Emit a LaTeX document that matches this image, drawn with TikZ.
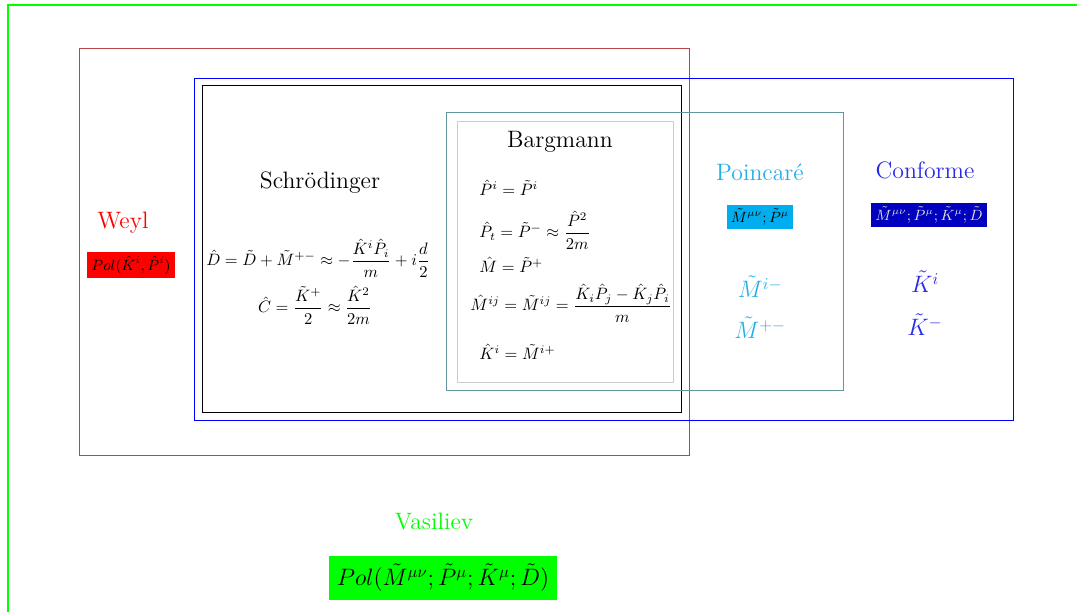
\documentclass[tikz,border=0pt]{standalone}
\usepackage{amsmath}
\definecolor{weylbox}{RGB}{185,70,70}
\definecolor{poinc}{RGB}{35,175,230}
\definecolor{poincfill}{RGB}{0,174,239}
\definecolor{conf}{RGB}{40,40,235}
\definecolor{conffill}{RGB}{0,0,190}
\definecolor{bargbox}{RGB}{100,150,160}
\begin{document}
\begin{tikzpicture}[x=0.0213cm, y=-0.0213cm, line width=0.6pt,
    every node/.style={inner sep=3pt},
    title/.style={font=\Large},
    polbox/.style={font=\small, inner sep=2.5pt}]
    \useasboundingbox (0,0) rectangle (1077,612);
    \draw[green, line width=1pt] (8,5) rectangle (1090,625);
    \draw[weylbox] (79,49) rectangle (689,455);
    \draw[blue] (194,79) rectangle (1013,420);
    \draw[black] (202,86) rectangle (681,412);
    \draw[bargbox] (446,113) rectangle (843,390);
    \draw[gray!40] (457,122) rectangle (673,382);
    \node[title, red] (weyl) at (123,223) {Weyl};
    \node[polbox, fill=red] (weylpol) at (131,265) {$Pol(\hat K^i,\hat P^i)$};
    \node[title] (schrod) at (320,183) {Schr\"odinger};
    \node (dhat) at (318,258)
      {$\hat D=\tilde D+\tilde M^{+-}\approx-\dfrac{\hat K^i\hat P_i}{m}+i\dfrac{d}{2}$};
    \node (chat) at (315,305) {$\hat C=\dfrac{\tilde K^+}{2}\approx\dfrac{\hat K^2}{2m}$};
    \node[title] (barg) at (560,142) {Bargmann};
    \node[anchor=west] (pi) at (474,188) {$\hat P^i=\tilde P^i$};
    \node[anchor=west] (pt) at (474,230) {$\hat P_t=\tilde P^-\approx\dfrac{\hat P^2}{2m}$};
    \node[anchor=west] (mhat) at (474,265) {$\hat M=\tilde P^+$};
    \node[anchor=west] (mij) at (465,303)
      {$\hat M^{ij}=\tilde M^{ij}=\dfrac{\hat K_i\hat P_j-\hat K_j\hat P_i}{m}$};
    \node[anchor=west] (ki) at (474,352) {$\hat K^i=\tilde M^{i+}$};
    \node[title, poinc] (poincare) at (760,172) {Poincar\'e};
    \node[polbox, fill=poincfill] (poincpol) at (760,217) {$\tilde M^{\mu\nu};\tilde P^\mu$};
    \node[font=\Large, poinc] (mim) at (760,287) {$\tilde M^{i-}$};
    \node[font=\Large, poinc] (mpm) at (760,328) {$\tilde M^{+-}$};
    \node[title, conf] (conforme) at (925,170) {Conforme};
    \node[polbox, fill=conffill, text=white!75!gray] (confpol) at (929,215)
      {$\tilde M^{\mu\nu};\tilde P^\mu;\tilde K^\mu;\tilde D$};
    \node[font=\Large, conf] (ki2) at (925,282) {$\tilde K^i$};
    \node[font=\Large, conf] (km) at (925,325) {$\tilde K^-$};
    \node[title, green] (vasiliev) at (434,522) {Vasiliev};
    \node[font=\Large, fill=green, inner sep=5pt] (vaspol) at (443,578)
      {$Pol(\tilde M^{\mu\nu};\tilde P^\mu;\tilde K^\mu;\tilde D)$};
  \end{tikzpicture}
\end{document}
